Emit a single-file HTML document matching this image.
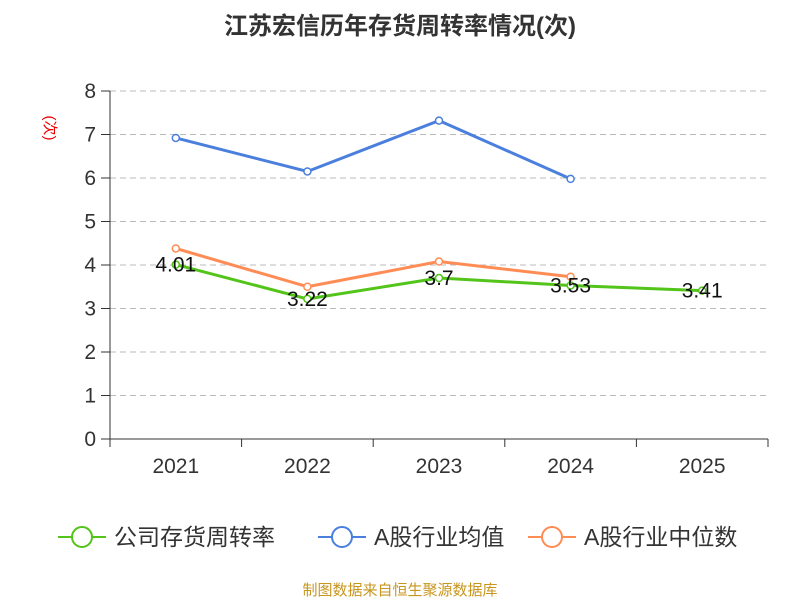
<!DOCTYPE html>
<html><head><meta charset="utf-8"><style>
body{margin:0;background:#fff;}
svg text{font-family:"Liberation Sans","Noto Sans CJK SC",sans-serif;}
</style></head><body>
<svg width="800" height="600" id="c">
<text x="400" y="34" text-anchor="middle" font-size="24" font-weight="bold" fill="#333">江苏宏信历年存货周转率情况(次)</text>
<text transform="translate(45,128) rotate(90)" text-anchor="middle" font-size="15" fill="#e00">(次)</text>
<text x="400" y="595" text-anchor="middle" font-size="15" fill="#c8961e">制图数据来自恒生聚源数据库</text>
<g id="g"></g>
</svg>
<script>
const categories=["2021","2022","2023","2024","2025"];
const company=[4.01,3.22,3.7,3.53,3.41];
const avgA=[6.92,6.15,7.32,5.98,null];
const medA=[4.38,3.5,4.08,3.73,null];
const yTicks=[0,1,2,3,4,5,6,7,8];
const NS="http://www.w3.org/2000/svg";
const g=document.getElementById('g');
const x0=110,x1=768,y0=439,y1=91;
const bw=(x1-x0)/categories.length;
const X=i=>x0+bw*(i+0.5);
const Y=v=>y0-(v/8)*(y0-y1);
function mk(t,a){const e=document.createElementNS(NS,t);for(const k in a)e.setAttribute(k,a[k]);g.appendChild(e);return e;}
yTicks.forEach(t=>{
 if(t>0){const l=mk('line',{x1:x0,x2:x1,y1:Y(t),y2:Y(t),stroke:'#bbb','stroke-dasharray':'6,4'});
 
 }
 const tk=mk('line',{x1:x0-9,x2:x0,y1:Y(t),y2:Y(t),stroke:'#333'});
 
 
 const tx=mk('text',{x:x0-14,y:Y(t)+7,'text-anchor':'end','font-size':21,fill:'#333'});tx.textContent=t;
 
 
});
const ya=mk('line',{x1:x0,x2:x0,y1:y1,y2:y0,stroke:'#333'});


const xa=mk('line',{x1:x0,x2:x1,y1:y0,y2:y0,stroke:'#333'});


for(let i=0;i<=categories.length;i++){const t=mk('line',{x1:x0+bw*i,x2:x0+bw*i,y1:y0,y2:y0+8,stroke:'#333'});
 
 }
categories.forEach((c,i)=>{const t=mk('text',{x:X(i),y:473,'text-anchor':'middle','font-size':21,fill:'#333'});t.textContent=c;
 
 });
function series(d,col,name){
 const pts=d.map((v,i)=>v==null?null:[X(i),Y(v)]).filter(p=>p);
 const p=mk('polyline',{points:pts.map(p=>p.join(',')).join(' '),fill:'none',stroke:col,'stroke-width':3});
 
 
 pts.forEach(q=>{const c=mk('circle',{cx:q[0],cy:q[1],r:3.5,fill:'#fff',stroke:col,'stroke-width':1.5});
 
 });
}
series(medA,'#ff8c55','industry-median');
series(avgA,'#4a7fdd','industry-average');
series(company,'#52c41a','company');
company.forEach((v,i)=>{const t=mk('text',{x:X(i),y:Y(v)+7,'text-anchor':'middle','font-size':21,fill:'#111'});t.textContent=v;
 
 });
const leg=[['公司存货周转率','#52c41a',58],['A股行业均值','#4a7fdd',318],['A股行业中位数','#ff8c55',528]];
leg.forEach(l=>{
 const ln=mk('line',{x1:l[2],x2:l[2]+48,y1:537,y2:537,stroke:l[1],'stroke-width':2});
 
 
 const c=mk('circle',{cx:l[2]+24,cy:537,r:10,fill:'#fff',stroke:l[1],'stroke-width':2});
 
 
 const t=mk('text',{x:l[2]+56,y:545,'font-size':23,fill:'#333'});t.textContent=l[0];
 
 
});
</script>
</body></html>
